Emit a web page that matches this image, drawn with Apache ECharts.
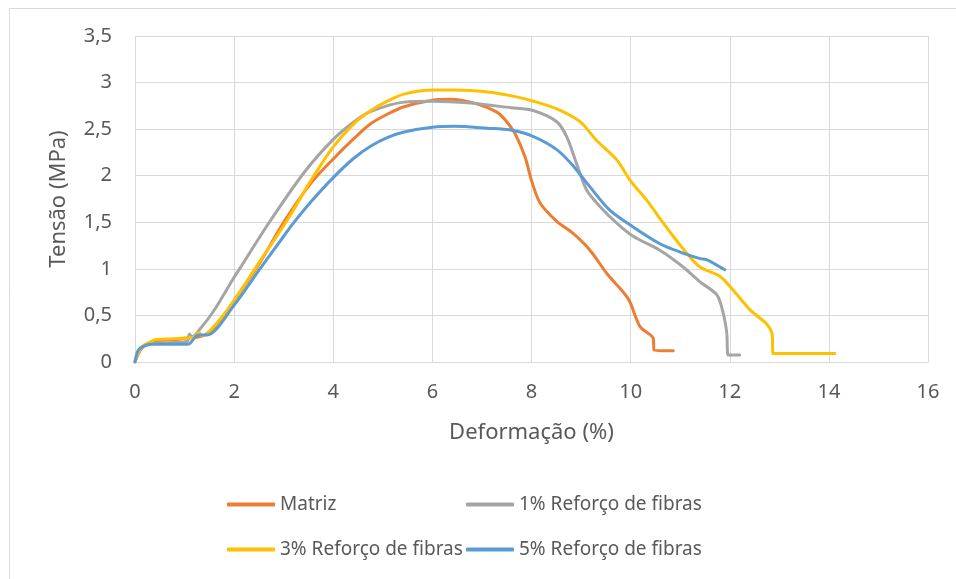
<!DOCTYPE html>
<html>
<head>
<meta charset="utf-8">
<script src="https://cdn.jsdelivr.net/npm/echarts@6/dist/echarts.min.js"></script>
<style>
html,body{margin:0;padding:0;background:#fff;}
#chart{width:956px;height:579px;}
</style>
</head>
<body>
<div id="chart"></div>
<script>
var seriesNames = ['Matriz', '1% Reforço de fibras', '3% Reforço de fibras', '5% Reforço de fibras'];
var xTicks = [0, 2, 4, 6, 8, 10, 12, 14, 16];
var yTicks = ['0', '0,5', '1', '1,5', '2', '2,5', '3', '3,5'];

var matrizX = [0, 0.05, 0.15, 0.3, 0.45, 0.8, 1.1, 1.3, 1.5, 1.75, 2.0, 2.5, 3.0, 3.55, 4.0, 4.42, 4.76, 5.09, 5.43, 6.0, 6.37, 6.91, 7.31, 7.5, 7.67, 7.87, 8.0, 8.17, 8.51, 8.84, 9.18, 9.52, 9.95, 10.19, 10.46, 10.47, 10.86];
var matrizY = [0, 0.07, 0.16, 0.21, 0.23, 0.24, 0.26, 0.27, 0.32, 0.47, 0.66, 1.05, 1.5, 1.92, 2.18, 2.40, 2.56, 2.66, 2.74, 2.81, 2.82, 2.77, 2.68, 2.58, 2.45, 2.20, 1.95, 1.71, 1.51, 1.38, 1.20, 0.95, 0.68, 0.38, 0.25, 0.13, 0.12];

var fibra1X = [0, 0.05, 0.12, 0.25, 0.5, 0.8, 1.05, 1.1, 1.15, 1.32, 1.59, 2.0, 2.11, 2.71, 3.42, 4.0, 4.42, 4.76, 5.43, 6.0, 6.77, 7.58, 8.03, 8.51, 8.71, 8.91, 9.11, 9.38, 9.72, 10.05, 10.59, 11.06, 11.40, 11.74, 11.87, 11.94, 11.97, 12.2];
var fibra1Y = [0, 0.08, 0.14, 0.19, 0.2, 0.21, 0.22, 0.30, 0.27, 0.36, 0.55, 0.91, 1.0, 1.5, 2.04, 2.39, 2.58, 2.69, 2.79, 2.80, 2.78, 2.73, 2.70, 2.58, 2.42, 2.13, 1.85, 1.67, 1.49, 1.35, 1.20, 1.02, 0.86, 0.72, 0.52, 0.31, 0.075, 0.075];

var fibra3X = [0, 0.05, 0.15, 0.3, 0.4, 0.8, 1.1, 1.2, 1.29, 1.35, 1.5, 1.75, 2.0, 2.42, 3.08, 3.55, 4.0, 4.42, 4.76, 5.09, 5.43, 6.0, 6.44, 7.11, 7.58, 8.04, 8.5, 8.98, 9.31, 9.72, 9.99, 10.32, 10.66, 10.86, 11.13, 11.40, 11.80, 12.07, 12.41, 12.74, 12.85, 12.88, 14.12];
var fibra3Y = [0, 0.08, 0.17, 0.21, 0.24, 0.25, 0.26, 0.27, 0.32, 0.28, 0.33, 0.48, 0.66, 1.0, 1.53, 1.95, 2.31, 2.56, 2.70, 2.80, 2.876, 2.92, 2.92, 2.90, 2.86, 2.80, 2.72, 2.58, 2.38, 2.17, 1.95, 1.74, 1.49, 1.35, 1.17, 1.02, 0.92, 0.77, 0.56, 0.41, 0.31, 0.09, 0.09];

var fibra5X = [0, 0.07, 0.23, 0.35, 0.6, 1.05, 1.11, 1.28, 1.45, 2.0, 2.52, 3.0, 3.18, 3.55, 4.0, 4.42, 4.76, 5.09, 5.43, 6.0, 6.44, 7.11, 7.58, 8.04, 8.51, 8.85, 9.18, 9.58, 10.05, 10.59, 11.0, 11.4, 11.53, 11.9];
var fibra5Y = [0, 0.13, 0.18, 0.19, 0.19, 0.19, 0.20, 0.29, 0.29, 0.61, 1.0, 1.35, 1.48, 1.72, 1.98, 2.19, 2.32, 2.41, 2.47, 2.52, 2.53, 2.51, 2.49, 2.42, 2.28, 2.10, 1.88, 1.63, 1.45, 1.27, 1.18, 1.11, 1.10, 0.99];

var colors = ['#ED7D31', '#A5A5A5', '#FFC000', '#5B9BD5'];
function zip(xs, ys) { return xs.map(function (x, i) { return [x, ys[i]]; }); }
var allData = [zip(matrizX, matrizY), zip(fibra1X, fibra1Y), zip(fibra3X, fibra3Y), zip(fibra5X, fibra5Y)];

var FONT = 'Noto Sans';
var chart = echarts.init(document.getElementById('chart'), null, {renderer: 'canvas'});
var legendBase = {
  orient: 'vertical', itemGap: 26, padding: 0,
  icon: 'roundRect', itemWidth: 48, itemHeight: 4,
  textStyle: {fontFamily: FONT, fontSize: 19, color: '#595959'},
  itemStyle: {borderWidth: 0}
};
var option = {
  animation: false,
  backgroundColor: '#fff',
  color: colors,
  textStyle: {fontFamily: FONT},
  graphic: [{
    type: 'rect', left: 7, top: 6, shape: {x: 0, y: 0, width: 1000, height: 700},
    style: {fill: 'none', stroke: '#d9d9d9', lineWidth: 1}, silent: true
  }],
  grid: {left: 135, right: 28, top: 36, bottom: 217, containLabel: false},
  legend: [
    Object.assign({}, legendBase, {left: 227, top: 495, data: [seriesNames[0], seriesNames[2]]}),
    Object.assign({}, legendBase, {left: 466, top: 495, data: [seriesNames[1], seriesNames[3]]})
  ],
  xAxis: {
    type: 'value', min: 0, max: 16, interval: 2,
    name: 'Deformação (%)', nameLocation: 'middle', nameGap: 60,
    nameTextStyle: {fontFamily: FONT, fontSize: 22, color: '#595959'},
    axisLine: {show: true, lineStyle: {color: '#d9d9d9', width: 1}},
    axisTick: {show: false},
    axisLabel: {fontFamily: FONT, fontSize: 20, color: '#595959', margin: 20,
      formatter: function (v) { return xTicks.indexOf(v) >= 0 ? String(v) : ''; }},
    splitLine: {show: true, lineStyle: {color: '#d9d9d9', width: 1}}
  },
  yAxis: {
    type: 'value', min: 0, max: 3.5, interval: 0.5,
    name: 'Tensão (MPa)', nameLocation: 'middle', nameGap: 65, nameRotate: 90,
    nameTextStyle: {fontFamily: FONT, fontSize: 22, color: '#595959'},
    axisLine: {show: false},
    axisTick: {show: false},
    axisLabel: {fontFamily: FONT, fontSize: 20, color: '#595959', margin: 23,
      formatter: function (v) { return yTicks[Math.round(v / 0.5)]; }},
    splitLine: {show: true, lineStyle: {color: '#d9d9d9', width: 1}}
  },
  series: seriesNames.map(function (n, i) {
    return {
      name: n, type: 'line', data: allData[i], showSymbol: false, symbol: 'none',
      smooth: 0.3, lineStyle: {width: 3, color: colors[i], cap: 'round', join: 'round'},
      itemStyle: {color: colors[i]}, z: 2 + i
    };
  })
};
chart.setOption(option);
</script>
</body>
</html>
